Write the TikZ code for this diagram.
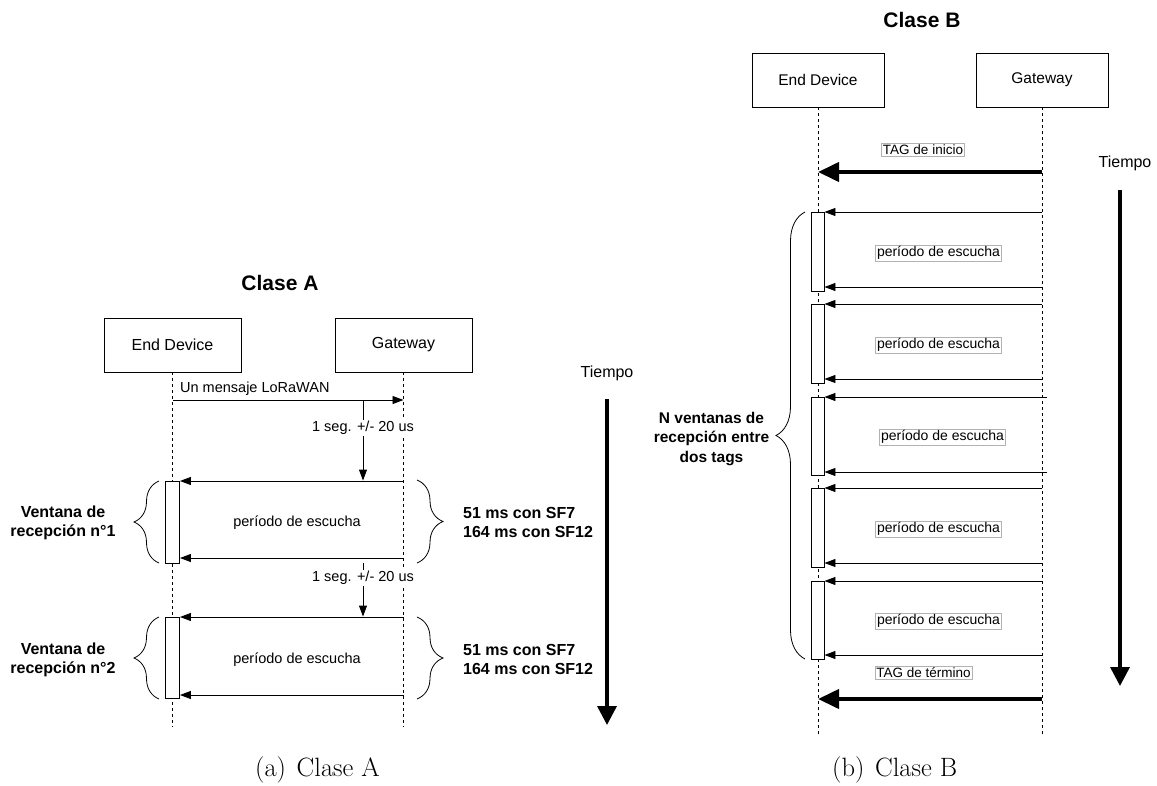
\documentclass[tikz,border=0pt]{standalone}
\usepackage{fontspec}
\newfontfamily\arial{Liberation Sans}
\usetikzlibrary{arrows.meta,decorations.pathreplacing,calc}
\newcommand\myfs[2]{\fontsize{#1}{#2}\selectfont}
\begin{document}
\begin{tikzpicture}[x=1pt,y=-1pt,
  actor/.style={draw, line width=0.9pt, minimum width=137pt, minimum height=54pt, inner sep=0pt, font=\arial\myfs{16}{19}},
  life/.style={line width=0.7pt, dash pattern=on 3pt off 3pt},
  actbox/.style={draw, line width=0.9pt, fill=white, minimum width=14pt, inner sep=0pt},
  msg/.style={line width=0.9pt, -{Triangle[length=11pt,width=8pt]}},
  bigmsg/.style={line width=4pt, -{Triangle[length=21pt,width=19pt]}},
  timearrow/.style={line width=3.5pt, -{Triangle[length=19pt,width=19pt]}},
  small/.style={font=\arial\myfs{14.5}{17}, inner sep=1pt},
  boldlbl/.style={font=\arial\bfseries\myfs{16}{18.5}, align=center, inner sep=0pt},
  tagbox/.style={draw=black!30, line width=0.5pt, fill=white, inner sep=1.5pt, font=\arial\myfs{13.5}{16}},
  brc/.style={decorate, decoration={brace, amplitude=#1}, line width=0.8pt},
  titlefont/.style={font=\arial\bfseries\myfs{21}{24}},
  timefont/.style={font=\arial\myfs{16}{19}},
  caption/.style={font=\myfs{26.5}{30}, inner sep=0pt}
]
\useasboundingbox (0,0) rectangle (1157,785);

% ================= Clase A =================
\node[titlefont] (titleA) at (280,283) {Clase A};
\node[actor] (edA) at (172.5,345) {End Device};
\node[actor] (gwA) at (403.5,345) {Gateway};
\coordinate (edAend) at (172.5,727);
\coordinate (gwAend) at (403.5,727);
\draw[life] (edA.south) -- (edAend);
\draw[life] (gwA.south) -- (gwAend);

\node[actbox, minimum height=82pt] (a1) at (172.5,522) {};
\node[actbox, minimum height=81pt] (a2) at (172.5,657.5) {};

% uplink message
\coordinate (m0s) at (172.5,400);
\coordinate (m0e) at (403.5,400);
\draw[msg] (m0s) -- (m0e);
\node[small, anchor=base west] (m0l) at (179,392) {Un mensaje LoRaWAN};

% delays
\coordinate (d1) at (363,400);
\draw[msg] (d1) -- (d1 |- a1.north);
\node[small, fill=white] (d1l) at (363,428) {1 seg. +/- 20 us};
\coordinate (d2) at (363,563);
\draw[msg] (d2) -- (d2 |- a2.north);
\node[small, fill=white] (d2l) at (363,578) {1 seg. +/- 20 us};

% windows
\coordinate (g1t) at (403.5,481);
\coordinate (g1b) at (403.5,558);
\coordinate (g2t) at (403.5,617);
\coordinate (g2b) at (403.5,695);
\draw[msg] (g1t) -- (g1t -| a1.east);
\draw[msg] (g1b) -- (g1b -| a1.east);
\draw[msg] (g2t) -- (g2t -| a2.east);
\draw[msg] (g2b) -- (g2b -| a2.east);
\node[small] (p1) at (297,523) {período de escucha};
\node[small] (p2) at (297,660) {período de escucha};

% braces
\draw[brc=25pt] (159,563) -- (159,481);
\draw[brc=25pt] (159,699) -- (159,617);
\node[boldlbl] (v1) at (63,523) {Ventana de\\recepción n°1};
\node[boldlbl] (v2) at (63,660) {Ventana de\\recepción n°2};
\draw[brc=26pt] (417,480) -- (417,563);
\draw[brc=26pt] (417,617) -- (417,699);
\node[boldlbl, align=left, anchor=west, font=\arial\bfseries\myfs{16}{19}] (s1) at (463,522) {51 ms con SF7\\164 ms con SF12};
\node[boldlbl, align=left, anchor=west, font=\arial\bfseries\myfs{16}{19}] (s2) at (463,659) {51 ms con SF7\\164 ms con SF12};

% time
\node[timefont] (tA) at (607,373) {Tiempo};
\coordinate (tAs) at (607,399);
\coordinate (tAe) at (607,725);
\draw[timearrow] (tAs) -- (tAe);

\node[caption, anchor=base west] (capA) at (255,776) {(a)\hspace{0.4em}Clase A};

% ================= Clase B =================
\node[titlefont] (titleB) at (922,20) {Clase B};
\node[actor, minimum width=132pt, font=\arial\myfs{15.5}{18}] (edB) at (818,80) {End Device};
\node[actor, minimum width=132pt, font=\arial\myfs{15.5}{18}] (gwB) at (1042,80) {Gateway};
\coordinate (edBend) at (818,735);
\coordinate (gwBend) at (1042,735);
\draw[life] (edB.south) -- (edBend);
\draw[life] (gwB.south) -- (gwBend);

% start tag
\coordinate (tis) at (1042,172);
\coordinate (tie) at (818,172);
\draw[bigmsg] (tis) -- (tie);
\node[tagbox] (til) at (923,150) {TAG de inicio};

% windows
\node[actbox, minimum width=13pt, minimum height=79pt] (b1) at (817.5,251.5) {};
\node[actbox, minimum width=13pt, minimum height=79pt] (b2) at (817.5,343.5) {};
\node[actbox, minimum width=13pt, minimum height=78pt] (b3) at (817.5,436) {};
\node[actbox, minimum width=13pt, minimum height=79pt] (b4) at (817.5,527.5) {};
\node[actbox, minimum width=13pt, minimum height=78pt] (b5) at (817.5,620) {};

\coordinate (h1t) at (1042,212);
\coordinate (h1b) at (1042,287);
\coordinate (h2t) at (1042,304);
\coordinate (h2b) at (1042,379);
\coordinate (h3t) at (1047,397);
\coordinate (h3b) at (1047,472);
\coordinate (h4t) at (1042,488);
\coordinate (h4b) at (1042,563);
\coordinate (h5t) at (1042,581);
\coordinate (h5b) at (1042,655);
\draw[msg] (h1t) -- (h1t -| b1.east);
\draw[msg] (h1b) -- (h1b -| b1.east);
\draw[msg] (h2t) -- (h2t -| b2.east);
\draw[msg] (h2b) -- (h2b -| b2.east);
\draw[msg] (h3t) -- (h3t -| b3.east);
\draw[msg] (h3b) -- (h3b -| b3.east);
\draw[msg] (h4t) -- (h4t -| b4.east);
\draw[msg] (h4b) -- (h4b -| b4.east);
\draw[msg] (h5t) -- (h5t -| b5.east);
\draw[msg] (h5b) -- (h5b -| b5.east);

\node[tagbox, font=\arial\myfs{14}{16}] (q1) at (938.5,253) {período de escucha};
\node[tagbox, font=\arial\myfs{14}{16}] (q2) at (938.5,345) {período de escucha};
\node[tagbox, font=\arial\myfs{14}{16}] (q3) at (942.5,437) {período de escucha};
\node[tagbox, font=\arial\myfs{14}{16}] (q4) at (938.5,529) {período de escucha};
\node[tagbox, font=\arial\myfs{14}{16}] (q5) at (938.5,621) {período de escucha};

% end tag
\node[tagbox] (tel) at (923.5,673) {TAG de término};
\coordinate (tes) at (1042,699);
\coordinate (tee) at (818,699);
\draw[bigmsg] (tes) -- (tee);

% brace
\draw[brc=29pt] (805,659) -- (805,212);
\node[boldlbl, font=\arial\bfseries\myfs{15.5}{19.5}] (nv) at (711.5,439) {N ventanas de\\recepción entre\\dos tags};

% time
\node[timefont] (tB) at (1125,163) {Tiempo};
\coordinate (tBs) at (1120,190);
\coordinate (tBe) at (1120,686);
\draw[timearrow] (tBs) -- (tBe);

\node[caption, anchor=base west] (capB) at (832,776) {(b)\hspace{0.4em}Clase B};
\end{tikzpicture}
\end{document}
